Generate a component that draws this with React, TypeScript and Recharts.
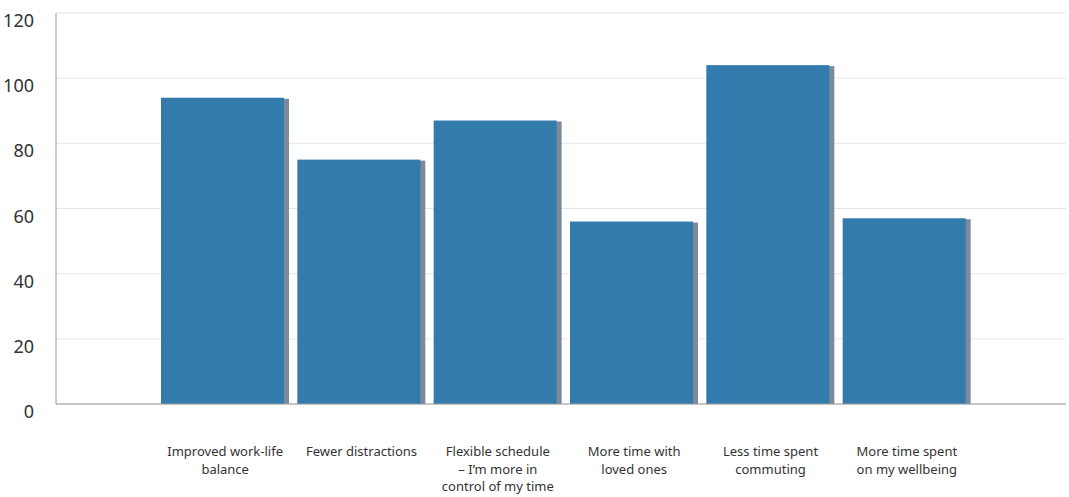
import React from "react";
import { BarChart, Bar, XAxis, YAxis, CartesianGrid } from "recharts";

const categories = [
  ["Improved work-life", "balance"],
  ["Fewer distractions"],
  ["Flexible schedule", "– I’m more in", "control of my time"],
  ["More time with", "loved ones"],
  ["Less time spent", "commuting"],
  ["More time spent", "on my wellbeing"],
];
const values = [94, 75, 87, 56, 104, 57];
const yTicks = [0, 20, 40, 60, 80, 100, 120];

const data = categories.map((lines, i) => ({ name: lines.join(" "), lines, value: values[i] }));

const FONT = "'Noto Sans', 'Open Sans', sans-serif";

function ShadowBar(props: any) {
  const { x, y, width, height } = props;
  if (!height || height <= 0) return null;
  const sw = 5;
  return (
    <g>
      <rect x={x + sw} y={y + 1} width={width - sw} height={height - 1} fill="#7b8b9c" />
      <rect x={x} y={y} width={width - sw} height={height} fill="#337aad" />
    </g>
  );
}

function XTick(props: any) {
  const { x, y, payload } = props;
  const item = data.find((d) => d.name === payload.value);
  const lines = item ? item.lines : [String(payload.value)];
  return (
    <text x={x} y={y + 44} textAnchor="middle" fill="#333" fontSize={13} fontFamily={FONT}>
      {lines.map((l, i) => (
        <tspan key={i} x={x} dy={i === 0 ? 0 : 17.5}>
          {l}
        </tspan>
      ))}
    </text>
  );
}

function YTick(props: any) {
  const { x, y, payload } = props;
  return (
    <text x={x - 14} y={y + 14} textAnchor="end" fill="#333" fontSize={18} fontFamily={FONT}>
      {payload.value}
    </text>
  );
}

export default function App() {
  return (
    <div style={{ position: "absolute", left: 0, top: 0, background: "#fff" }}>
      <BarChart
        width={1069}
        height={497}
        data={data}
        margin={{ top: 13, right: 3, bottom: 0, left: 0 }}
        barCategoryGap={4}
      >
        <CartesianGrid horizontal vertical={false} stroke="#e6e6e6" />
        <XAxis
          dataKey="name"
          height={93}
          padding={{ left: 101, right: 91 }}
          axisLine={{ stroke: "#999" }}
          tickLine={false}
          tick={<XTick />}
          interval={0}
        />
        <YAxis
          width={56}
          domain={[0, 120]}
          ticks={yTicks}
          axisLine={{ stroke: "#999" }}
          tickLine={false}
          tick={<YTick />}
          interval={0}
        />
        <Bar dataKey="value" shape={<ShadowBar />} isAnimationActive={false} />
      </BarChart>
    </div>
  );
}
